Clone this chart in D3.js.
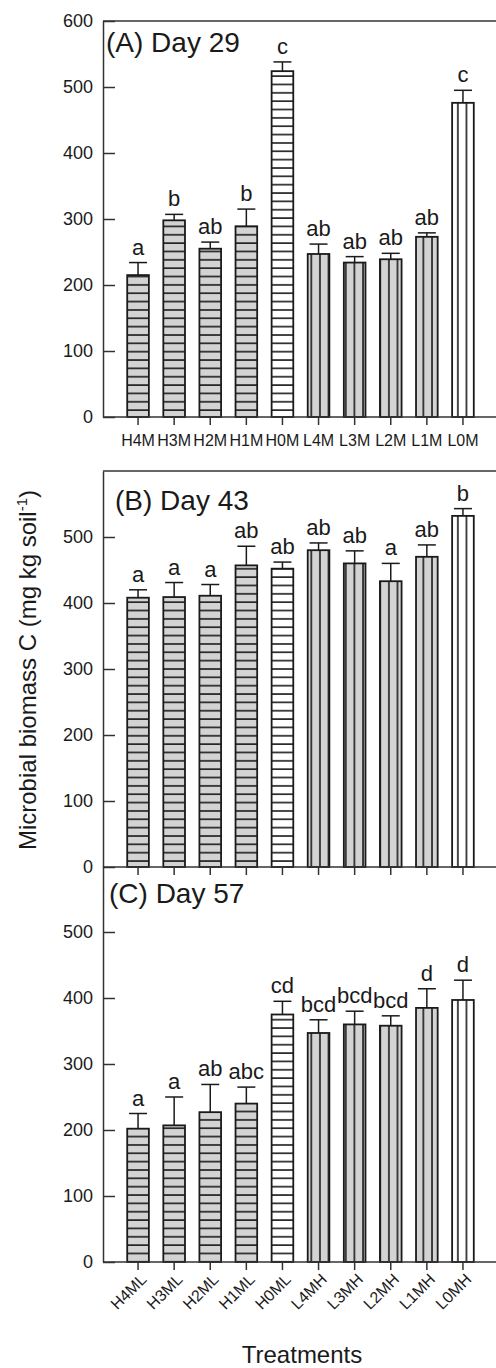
<!DOCTYPE html>
<html>
<head>
<meta charset="utf-8">
<script src="https://cdn.jsdelivr.net/npm/d3@7"></script>
<style>
  body { margin: 0; background: #fff; }
  svg text { font-family: "Liberation Sans", Arial, sans-serif; fill: #1a1a1a; }
</style>
</head>
<body>
<script>
// categorías
const treatmentsAB = ['H4M', 'H3M', 'H2M', 'H1M', 'H0M', 'L4M', 'L3M', 'L2M', 'L1M', 'L0M'];
const treatmentsC = ['H4ML', 'H3ML', 'H2ML', 'H1ML', 'H0ML', 'L4MH', 'L3MH', 'L2MH', 'L1MH', 'L0MH'];

// Day 29
const day29 = [215, 298, 255, 289, 524, 247, 234, 239, 273, 476];
const day29Err = [19, 9, 10, 26, 14, 15, 9, 9, 6, 19];
const day29Letters = ['a', 'b', 'ab', 'b', 'c', 'ab', 'ab', 'ab', 'ab', 'c'];

// Day 43
const day43 = [408, 409, 411, 457, 452, 480, 460, 433, 470, 532];
const day43Err = [12, 22, 17, 29, 10, 11, 19, 27, 18, 11];
const day43Letters = ['a', 'a', 'a', 'ab', 'ab', 'ab', 'ab', 'a', 'ab', 'b'];

// Day 57
const day57 = [202, 207, 227, 240, 375, 347, 360, 358, 385, 397];
const day57Err = [23, 43, 42, 25, 20, 20, 20, 15, 29, 30];
const day57Letters = ['a', 'a', 'ab', 'abc', 'cd', 'bcd', 'bcd', 'bcd', 'd', 'd'];

const ticksA = [0, 100, 200, 300, 400, 500, 600];
const ticksBC = [0, 100, 200, 300, 400, 500];

const WIDTH = 496;
const HEIGHT = 1368;
const LEFT = 103;
const RIGHT = 496;
const INK = '#1a1a1a';
const GRAY = '#d3d3d3';

const svg = d3.select('body')
  .append('svg')
  .attr('width', WIDTH)
  .attr('height', HEIGHT);

// patrones de relleno
const defs = svg.append('defs');
function addPattern(id, fill, horizontal) {
  const step = horizontal ? 8.35 : 8.62;
  const p = defs.append('pattern')
    .attr('id', id)
    .attr('patternUnits', 'userSpaceOnUse')
    .attr('width', horizontal ? 20 : step)
    .attr('height', horizontal ? step : 20);
  p.append('rect').attr('width', horizontal ? 20 : step).attr('height', horizontal ? step : 20).attr('fill', fill);
  if (horizontal) {
    p.append('line').attr('x1', 0).attr('x2', 20).attr('y1', 1).attr('y2', 1)
      .attr('stroke', INK).attr('stroke-width', 1.6);
  } else {
    p.append('line').attr('y1', 0).attr('y2', 20).attr('x1', 1).attr('x2', 1)
      .attr('stroke', INK).attr('stroke-width', 1.6);
  }
}
addPattern('hGray', GRAY, true);
addPattern('hWhite', '#fff', true);
addPattern('vGray', GRAY, false);
addPattern('vWhite', '#fff', false);

function patternFor(name) {
  const horiz = name[0] === 'H';
  const white = name[1] === '0';
  return 'url(#' + (horiz ? 'h' : 'v') + (white ? 'White' : 'Gray') + ')';
}

function drawPanel(cfg) {
  const escalaX = d3.scaleBand()
    .domain(cfg.categories)
    .range([120, 481])
    .paddingInner(0.4)
    .paddingOuter(0.2);

  const escalaY = d3.scaleLinear()
    .domain([0, 600])
    .range([cfg.bottom, cfg.top]);

  const g = svg.append('g');

  // barras
  g.selectAll('rect.bar')
    .data(cfg.values)
    .enter()
    .append('rect')
    .attr('class', 'bar')
    .attr('x', (d, i) => escalaX(cfg.categories[i]))
    .attr('width', escalaX.bandwidth())
    .attr('y', d => escalaY(d))
    .attr('height', d => escalaY(0) - escalaY(d))
    .attr('fill', (d, i) => patternFor(cfg.categories[i]))
    .attr('stroke', INK)
    .attr('stroke-width', 1.8);

  // barras de error
  const cx = i => escalaX(cfg.categories[i]) + escalaX.bandwidth() / 2;
  g.selectAll('line.err')
    .data(cfg.values)
    .enter()
    .append('line')
    .attr('x1', (d, i) => cx(i))
    .attr('x2', (d, i) => cx(i))
    .attr('y1', d => escalaY(d))
    .attr('y2', (d, i) => escalaY(d + cfg.errors[i]))
    .attr('stroke', INK)
    .attr('stroke-width', 1.5);
  g.selectAll('line.cap')
    .data(cfg.values)
    .enter()
    .append('line')
    .attr('x1', (d, i) => cx(i) - 9)
    .attr('x2', (d, i) => cx(i) + 9)
    .attr('y1', (d, i) => escalaY(d + cfg.errors[i]))
    .attr('y2', (d, i) => escalaY(d + cfg.errors[i]))
    .attr('stroke', INK)
    .attr('stroke-width', 1.5);

  // letras
  g.selectAll('text.letter')
    .data(cfg.letters)
    .enter()
    .append('text')
    .attr('x', (d, i) => cx(i))
    .attr('y', (d, i) => escalaY(cfg.values[i] + cfg.errors[i]) - 8)
    .attr('text-anchor', 'middle')
    .style('font-size', '22px')
    .text(d => d);

  // eje Y
  const ejeY = d3.axisLeft(escalaY)
    .tickValues(cfg.ticks)
    .tickSizeInner(-12)
    .tickSizeOuter(0)
    .tickPadding(10);
  const gy = svg.append('g')
    .attr('transform', `translate(${LEFT},0)`)
    .call(ejeY);
  gy.selectAll('text').style('font-size', '18px').attr('fill', INK);
  gy.selectAll('line, path').attr('stroke', '#333').attr('stroke-width', 1.5);

  // eje X
  const ejeX = d3.axisBottom(escalaX).tickSize(8).tickPadding(10).tickSizeOuter(0);
  const gx = svg.append('g')
    .attr('transform', `translate(0,${cfg.bottom})`)
    .call(ejeX);
  gx.select('.domain').remove();
  gx.selectAll('line').attr('stroke', '#333').attr('stroke-width', 1.5);
  gx.selectAll('text').style('font-size', '16px').attr('fill', INK);
  if (cfg.showLabels === false) gx.selectAll('text').remove();
  if (cfg.rotate) {
    gx.selectAll('text')
      .attr('text-anchor', 'end')
      .attr('dy', '0.3em')
      .attr('transform', 'translate(6,15) rotate(-45)')
      .attr('y', 0);
  }

  svg.append('line')
    .attr('x1', LEFT).attr('x2', RIGHT)
    .attr('y1', cfg.bottom).attr('y2', cfg.bottom)
    .attr('stroke', '#333').attr('stroke-width', 1.5);
  if (cfg.frameTop) {
    svg.append('line')
      .attr('x1', LEFT).attr('x2', RIGHT)
      .attr('y1', cfg.top).attr('y2', cfg.top)
      .attr('stroke', '#333').attr('stroke-width', 1.5);
  }

  svg.append('text')
    .attr('x', cfg.titleX)
    .attr('y', cfg.titleY)
    .style('font-size', '28px')
    .text(cfg.title);
}

drawPanel({
  categories: treatmentsAB, values: day29, errors: day29Err, letters: day29Letters,
  ticks: ticksA, top: 21, bottom: 417, frameTop: true,
  title: '(A) Day 29', titleX: 106, titleY: 52
});

drawPanel({
  categories: treatmentsAB, values: day43, errors: day43Err, letters: day43Letters,
  ticks: ticksBC, top: 471, bottom: 867, frameTop: true, showLabels: false,
  title: '(B) Day 43', titleX: 115, titleY: 510
});

drawPanel({
  categories: treatmentsC, values: day57, errors: day57Err, letters: day57Letters,
  ticks: ticksBC, top: 866, bottom: 1262, frameTop: false, rotate: true,
  title: '(C) Day 57', titleX: 109, titleY: 903
});

// títulos de ejes
const yLabel = svg.append('text')
  .attr('transform', 'translate(36,670) rotate(-90)')
  .attr('text-anchor', 'middle')
  .style('font-size', '24px');
yLabel.append('tspan').text('Microbial biomass C (mg kg soil');
yLabel.append('tspan').attr('dy', -9).style('font-size', '15px').text('-1');
yLabel.append('tspan').attr('dy', 9).text(')');

svg.append('text')
  .attr('x', 302)
  .attr('y', 1363)
  .attr('text-anchor', 'middle')
  .style('font-size', '24px')
  .text('Treatments');
</script>
</body>
</html>
